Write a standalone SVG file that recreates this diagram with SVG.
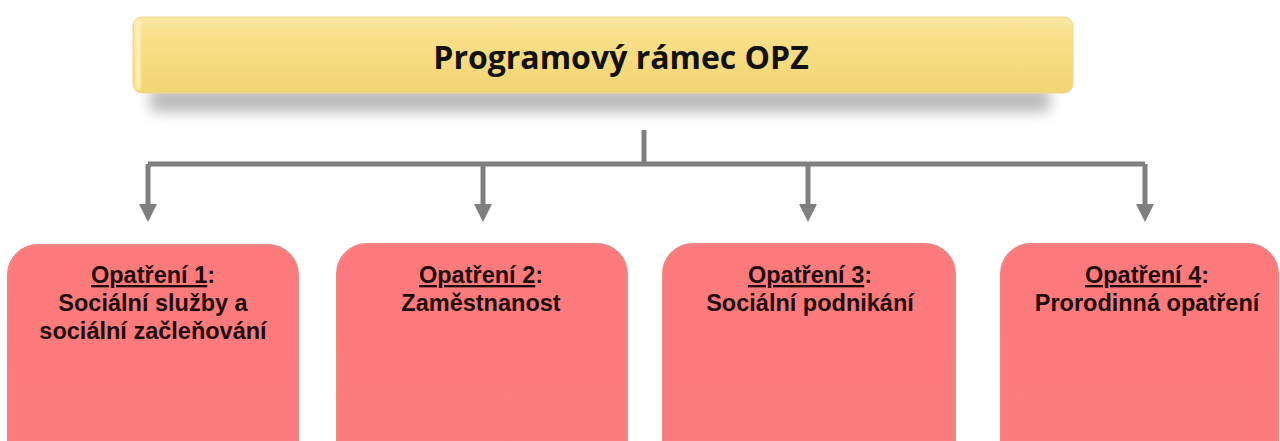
<svg xmlns="http://www.w3.org/2000/svg" width="1280" height="441" viewBox="0 0 1280 441">
  <defs>
    <linearGradient id="gTop" x1="0" y1="0" x2="0" y2="1">
      <stop offset="0" stop-color="#fbe8a6"/>
      <stop offset="0.25" stop-color="#f8df88"/>
      <stop offset="1" stop-color="#f2d474"/>
    </linearGradient>
    <linearGradient id="gBox" x1="0" y1="0" x2="0" y2="1">
      <stop offset="0" stop-color="#fd7a7c"/>
      <stop offset="1" stop-color="#fc7c7e"/>
    </linearGradient>
    <filter id="blur" x="-10%" y="-100%" width="120%" height="300%">
      <feGaussianBlur stdDeviation="7"/>
    </filter>
    <filter id="soft" x="-10%" y="-10%" width="120%" height="120%">
      <feGaussianBlur stdDeviation="1.5"/>
    </filter>
    <style>
      .conn { fill: none; stroke: #7f7f7f; stroke-width: 5; }
      .head { fill: #7f7f7f; }
      .box { fill: url(#gBox); stroke: #ee8585; stroke-width: 2; }
      .lbl { font-family: "Liberation Sans", Arial, sans-serif; font-weight: bold; font-size: 23.5px; fill: #1e0b0b; text-anchor: middle; }
      .title { font-family: "Open Sans", "Liberation Sans", sans-serif; font-weight: bold; font-size: 32px; fill: #111; text-anchor: middle; }
      .u { text-decoration: underline; }
    </style>
  </defs>

  <rect width="1280" height="441" fill="#ffffff"/>

  <g id="top">
    <rect x="150" y="88" width="900" height="24" fill="#8c8c8c" opacity="0.6" filter="url(#blur)"/>
    <rect x="133" y="17" width="940" height="76" rx="9" fill="url(#gTop)" stroke="#f0d68a" stroke-width="1"/>
    <rect x="135" y="20" width="6" height="70" rx="3" fill="#fdf3c4" opacity="0.8" filter="url(#soft)"/>
    <text class="title" x="621" y="69">Programový rámec OPZ</text>
  </g>

  <g id="connectors">
    <path class="conn" d="M644,130 V164"/>
    <path class="conn" d="M148,164 H1145"/>
    <path class="conn" d="M148,164 V206"/>
    <path class="conn" d="M483,164 V206"/>
    <path class="conn" d="M808,164 V206"/>
    <path class="conn" d="M1145,164 V206"/>
    <path class="head" d="M139,204 H157 L148,222 Z"/>
    <path class="head" d="M474,204 H492 L483,222 Z"/>
    <path class="head" d="M799,204 H817 L808,222 Z"/>
    <path class="head" d="M1136,204 H1154 L1145,222 Z"/>
  </g>

  <g id="op1">
    <rect class="box" x="8" y="245" width="290" height="230" rx="30"/>
    <text class="lbl" x="153" y="283"><tspan class="u">Opatření 1</tspan>:</text>
    <text class="lbl" x="153" y="311">Sociální služby a</text>
    <text class="lbl" x="153" y="339">sociální začleňování</text>
  </g>

  <g id="op2">
    <rect class="box" x="337" y="244" width="290" height="230" rx="30"/>
    <text class="lbl" x="481" y="283"><tspan class="u">Opatření 2</tspan>:</text>
    <text class="lbl" x="481" y="311">Zaměstnanost</text>
  </g>

  <g id="op3">
    <rect class="box" x="663" y="244" width="292" height="230" rx="30"/>
    <text class="lbl" x="810" y="283"><tspan class="u">Opatření 3</tspan>:</text>
    <text class="lbl" x="810" y="311">Sociální podnikání</text>
  </g>

  <g id="op4">
    <rect class="box" x="1001" y="244" width="277" height="230" rx="30"/>
    <text class="lbl" x="1147" y="283"><tspan class="u">Opatření 4</tspan>:</text>
    <text class="lbl" x="1147" y="311">Prorodinná opatření</text>
  </g>
</svg>
